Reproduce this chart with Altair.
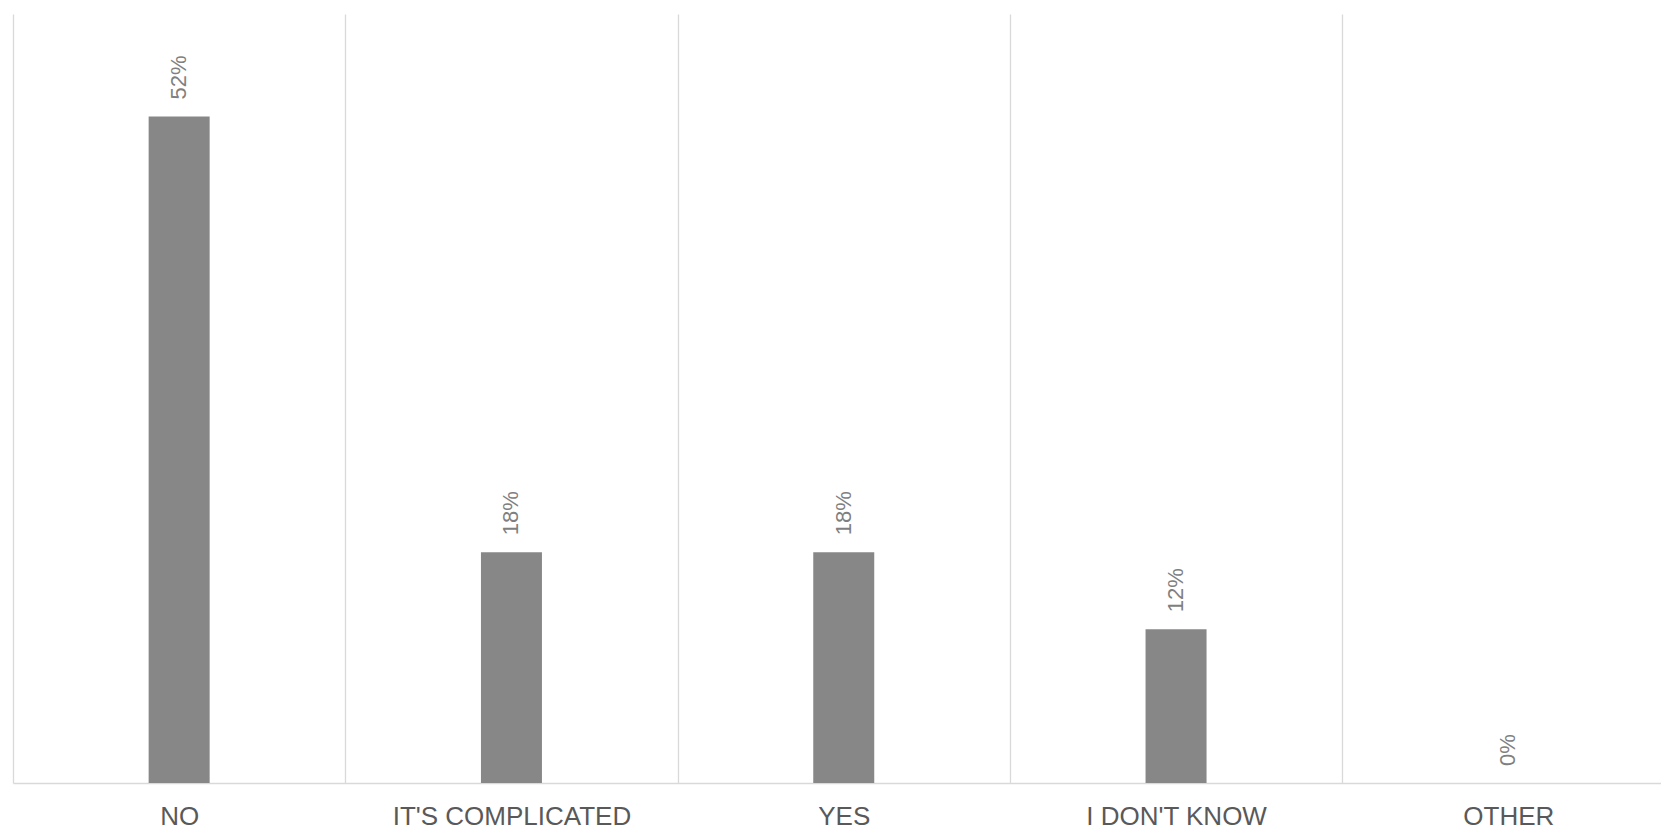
import altair as alt
import pandas as pd

# Survey answers and their share of responses (%)
answers = ["NO", "IT'S COMPLICATED", "YES", "I DON'T KNOW", "OTHER"]
shares = [52, 18, 18, 12, 0]
share_labels = ["52%", "18%", "18%", "12%", "0%"]

df = pd.DataFrame({"answer": answers, "share": shares, "label": share_labels})

# Category axis: grid lines sit on the band edges, labels stay centred
x_enc = alt.X(
    "answer:N",
    sort=answers,
    title=None,
    scale=alt.Scale(range=[0, 1661.5], paddingInner=0, paddingOuter=0),
    axis=alt.Axis(
        labelAngle=0,
        labelFont="Liberation Sans",
        labelFontSize=26,
        labelColor="#595959",
        labelPadding=20,
        labelLimit=0,
        ticks=False,
        tickSize=0,
        domainColor="#d9d9d9",
        domainWidth=1.3,
        grid=True,
        gridColor="#d9d9d9",
        gridWidth=1.3,
        tickBand="extent",
    ),
)
y_enc = alt.Y("share:Q", scale=alt.Scale(domain=[0, 60], nice=False), axis=None)

bars = alt.Chart(df).mark_bar(size=61, color="#878787").encode(x=x_enc, y=y_enc)

labels = alt.Chart(df).mark_text(
    angle=270,
    align="left",
    baseline="middle",
    dx=17,
    font="Liberation Sans",
    fontSize=22,
    color="#7f7f7f",
).encode(x=x_enc, y=y_enc, text="label:N")

chart = (
    alt.layer(bars, labels)
    .properties(
        width=1648,
        height=769,
        background="white",
        autosize=alt.AutoSizeParams(type="none"),
        padding={"left": 13, "top": 14, "right": 0, "bottom": 46},
    )
    .configure_view(stroke=None, strokeWidth=0)
)

chart.save("out.html", embed_options={"renderer": "svg", "actions": False})
